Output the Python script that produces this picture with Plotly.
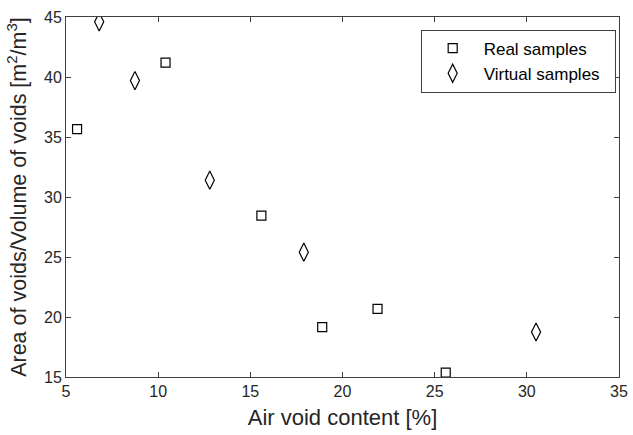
import plotly.graph_objects as go

real_x = [5.6, 10.4, 15.6, 18.9, 21.9, 25.6]
real_y = [35.66, 41.2, 28.44, 19.15, 20.68, 15.36]
virt_x = [6.8, 8.74, 12.8, 17.9, 30.5]
virt_y = [44.6, 39.7, 31.4, 25.4, 18.75]

x_ticks = [5, 10, 15, 20, 25, 30, 35]
y_ticks = [15, 20, 25, 30, 35, 40, 45]

fig = go.Figure()
fig.add_trace(go.Scatter(x=real_x, y=real_y, mode="markers", name="Real samples\u00a0\u00a0",
                         marker=dict(symbol="square-open", size=9, color="black",
                                     line=dict(width=1.2, color="black"))))
fig.add_trace(go.Scatter(x=virt_x, y=virt_y, mode="markers", name="Virtual samples\u00a0\u00a0",
                         marker=dict(symbol="diamond-tall-open", size=13, color="black",
                                     line=dict(width=1.2, color="black"))))

axis_common = dict(showgrid=False, zeroline=False, showline=True, linecolor="#404040",
                   linewidth=1, mirror="ticks", ticks="inside", ticklen=5, tickcolor="#404040",
                   tickfont=dict(size=16, color="#262626"), automargin=False)
fig.update_layout(
    width=633, height=435,
    margin=dict(l=66, r=14, t=17, b=58),
    paper_bgcolor="white", plot_bgcolor="white",
    font=dict(family="Liberation Sans, Arial, sans-serif", color="#262626"),
    xaxis=dict(range=[5, 35], tickvals=x_ticks, title=dict(text="Air void content [%]",
               font=dict(size=22), standoff=10), **axis_common),
    yaxis=dict(range=[15, 45], tickvals=y_ticks,
               title=dict(text="Area of voids/Volume of voids [m<sup>2</sup>/m<sup>3</sup>]",
                          font=dict(size=21.5), standoff=11), **axis_common),
    legend=dict(x=0.994, y=0.965, xanchor="right", yanchor="top", bordercolor="#404040",
                borderwidth=1, bgcolor="white", font=dict(size=17, color="#000000"),
                tracegroupgap=0, itemwidth=52),
    showlegend=True,
)
fig.write_html("out.html")
